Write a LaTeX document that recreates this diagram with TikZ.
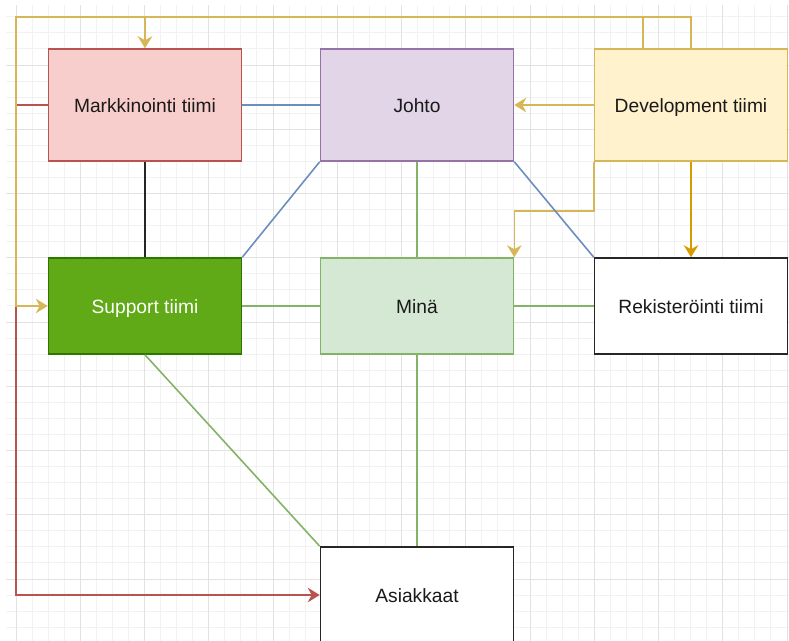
\documentclass[tikz,border=0pt]{standalone}
\usepackage{fontspec}
\setmainfont{Liberation Sans}
\usetikzlibrary{arrows.meta,calc}
\definecolor{gridminor}{HTML}{F2F2F2}
\definecolor{gridmajor}{HTML}{E2E2E2}
\definecolor{mkfill}{HTML}{F8CECC}\definecolor{mkline}{HTML}{B85450}
\definecolor{jofill}{HTML}{E1D5E7}\definecolor{joline}{HTML}{9673A6}
\definecolor{devfill}{HTML}{FFF2CC}\definecolor{devline}{HTML}{D6B656}
\definecolor{supfill}{HTML}{60A917}\definecolor{supline}{HTML}{2D7600}
\definecolor{mifill}{HTML}{D5E8D4}\definecolor{miline}{HTML}{82B366}
\definecolor{blueline}{HTML}{6C8EBF}
\definecolor{orangeline}{HTML}{D79B00}
\definecolor{txt}{HTML}{1A1A1A}
\tikzset{
  box/.style={draw, rectangle, line width=1.2pt, inner sep=0pt,
    minimum width=144.75pt, font=\fontsize{14.4}{17}\selectfont, text=txt,
    text height=12.6pt, text depth=1.4pt},
  tall/.style={minimum height=84pt},
  short/.style={minimum height=72pt},
  conn/.style={line width=1.2pt},
  tip/.style={-{Stealth[length=9pt,width=11pt,inset=3pt]}}
}
\begin{document}
\begin{tikzpicture}[x=0.75pt,y=-0.75pt]
\useasboundingbox (0,0) rectangle (789,641);
% grid
\begin{scope}
\clip (6,6) rectangle (789,641);
\foreach \i in {-1,...,49} {
  \pgfmathsetmacro{\gx}{int(16+16.0625*\i)+0.5}
  \draw[gridminor, line width=0.75pt] (\gx,0) -- (\gx,641);
}
\foreach \i in {-4,...,38} {
  \pgfmathsetmacro{\gy}{int(65+16.0625*\i)+0.5}
  \draw[gridminor, line width=0.75pt] (0,\gy) -- (789,\gy);
}
\foreach \i in {0,...,12} {
  \pgfmathsetmacro{\gx}{int(16+64.25*\i)+0.5}
  \draw[gridmajor, line width=0.75pt] (\gx,0) -- (\gx,641);
}
\foreach \i in {-1,...,9} {
  \pgfmathsetmacro{\gy}{int(65+64.25*\i)+0.5}
  \draw[gridmajor, line width=0.75pt] (0,\gy) -- (789,\gy);
}
\end{scope}
% nodes
\node[box,tall,fill=mkfill,draw=mkline] (mk) at (145,105) {Markkinointi tiimi};
\node[box,tall,fill=jofill,draw=joline] (jo) at (417,105) {Johto};
\node[box,tall,fill=devfill,draw=devline] (dev) at (691,105) {Development tiimi};
\node[box,short,fill=supfill,draw=supline,text=white] (sup) at (145,306) {Support tiimi};
\node[box,short,fill=mifill,draw=miline] (mi) at (417,306) {Minä};
\node[box,short,fill=white,draw=black!85] (rk) at (691,306) {Rekisteröinti tiimi};
\node[box,short,fill=white,draw=black!85] (as) at (417,595) {Asiakkaat};
% helper coordinates
\coordinate (leftx) at (16,0);
\coordinate (topy) at (0,17);
\coordinate (devL) at ($(dev.north)+(-48,0)$);
% connectors
\draw[conn,mkline,tip] (mk.west) -- (mk.west -| leftx) -- (as.west -| leftx) -- (as.west);
\draw[conn,devline,tip] (dev.north) -- (dev.north |- topy) -- (leftx |- topy) -- (leftx |- sup.west) -- (sup.west);
\draw[conn,devline,tip] (devL) -- (devL |- topy) -- (mk.north |- topy) -- (mk.north);
\draw[conn,devline,tip] (dev.west) -- (jo.east);
\draw[conn,devline,tip] (dev.south west) -- ++(0,49) -| (mi.north east);
\draw[conn,orangeline,tip] (dev.south) -- (rk.north);
\draw[conn,blueline] (mk.east) -- (jo.west);
\draw[conn,black!85] (mk.south) -- (sup.north);
\draw[conn,blueline] (jo.south west) -- (sup.north east);
\draw[conn,blueline] (jo.south east) -- (rk.north west);
\draw[conn,miline] (jo.south) -- (mi.north);
\draw[conn,miline] (sup.east) -- (mi.west);
\draw[conn,miline] (mi.east) -- (rk.west);
\draw[conn,miline] (mi.south) -- (as.north);
\draw[conn,miline] (sup.south) -- (as.north west);
\end{tikzpicture}
\end{document}
